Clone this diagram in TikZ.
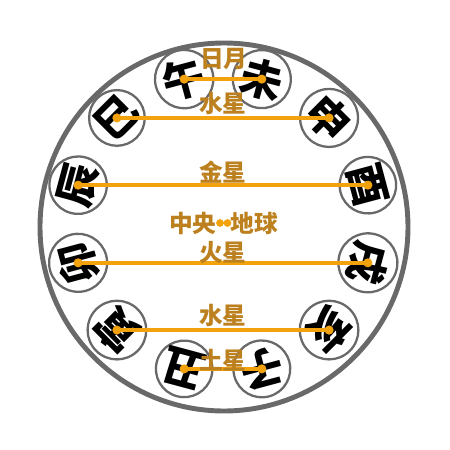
\documentclass[tikz,border=0pt]{standalone}
\usepackage{fontspec}
\newfontfamily\cjk{Noto Sans CJK SC}
\usetikzlibrary{positioning}
\definecolor{ringgray}{RGB}{105,105,105}
\definecolor{linkorange}{RGB}{242,162,12}
\definecolor{labelgold}{RGB}{188,128,30}

\tikzset{
  branch/.style={circle, draw=ringgray, line width=1.3pt, minimum size=1.08cm,
    inner sep=0pt, font=\cjk\bfseries\fontsize{24}{24}\selectfont},
  link/.style={draw=linkorange, line width=2.2pt},
  planet/.style={text=labelgold, inner sep=0pt, font=\cjk\bfseries\fontsize{13.5}{13.5}\selectfont},
}

\begin{document}
\begin{tikzpicture}
   \useasboundingbox (-4.46,-4.52) rectangle (4.54,4.48);
   \draw[ringgray, line width=2.8pt] (0.02,-0.06) circle (3.68);
   % the twelve branches, tops turned outwards
   \node[branch, rotate=15]   (wu)   at (105:3) {午};
   \node[branch, rotate=-15]  (wei)  at (75:3)  {未};
   \node[branch, rotate=-45]  (shen) at (45:3)  {申};
   \node[branch, rotate=-75]  (you)  at (15:3)  {酉};
   \node[branch, rotate=-105] (xu)   at (-15:3) {戌};
   \node[branch, rotate=-135] (hai)  at (-45:3) {亥};
   \node[branch, rotate=-165] (zi)   at (-75:3) {子};
   \node[branch, rotate=165]  (chou) at (255:3) {丑};
   \node[branch, rotate=135]  (yin)  at (225:3) {寅};
   \node[branch, rotate=105]  (mao)  at (195:3) {卯};
   \node[branch, rotate=75]   (chen) at (165:3) {辰};
   \node[branch, rotate=45]   (si)   at (135:3) {巳};
   % pairings
   \draw[link] (wu.center) -- (wei.center);
   \draw[link] (si.center) -- (shen.center);
   \draw[link] (chen.center) -- (you.center);
   \draw[link] (mao.center) -- (xu.center);
   \draw[link] (yin.center) -- (hai.center);
   \draw[link] (chou.center) -- (zi.center);
   \foreach \b in {wu,wei,si,shen,chen,you,mao,xu,yin,hai,chou,zi}
      \fill[linkorange] (\b) circle (2.6pt);
   % labels
   \node[planet] (riyue)  at (0.02,3.30)  {日月};
   \node[planet] (shui_1) at (0,2.42)     {水星};
   \node[planet] (jin)    at (0,1.04)     {金星};
   \node[planet] (huo)    at (0,-0.58)    {火星};
   \node[planet] (shui_2) at (0,-1.82)    {水星};
   \node[planet] (tu)     at (0,-2.72)    {土星};
   \node[planet, anchor=east] (zhongyang) at (-0.12,0.02) {中央};
   \node[planet, right=0.26cm of zhongyang] (diqiu) {地球};
   \coordinate (c_l) at (-0.06,0.02);
   \coordinate (c_r) at (0.09,0.02);
   \draw[link, line width=1.4pt] (c_l) -- (c_r);
   \fill[linkorange] (c_l) circle (2.2pt) (c_r) circle (2.2pt);
\end{tikzpicture}
\end{document}
